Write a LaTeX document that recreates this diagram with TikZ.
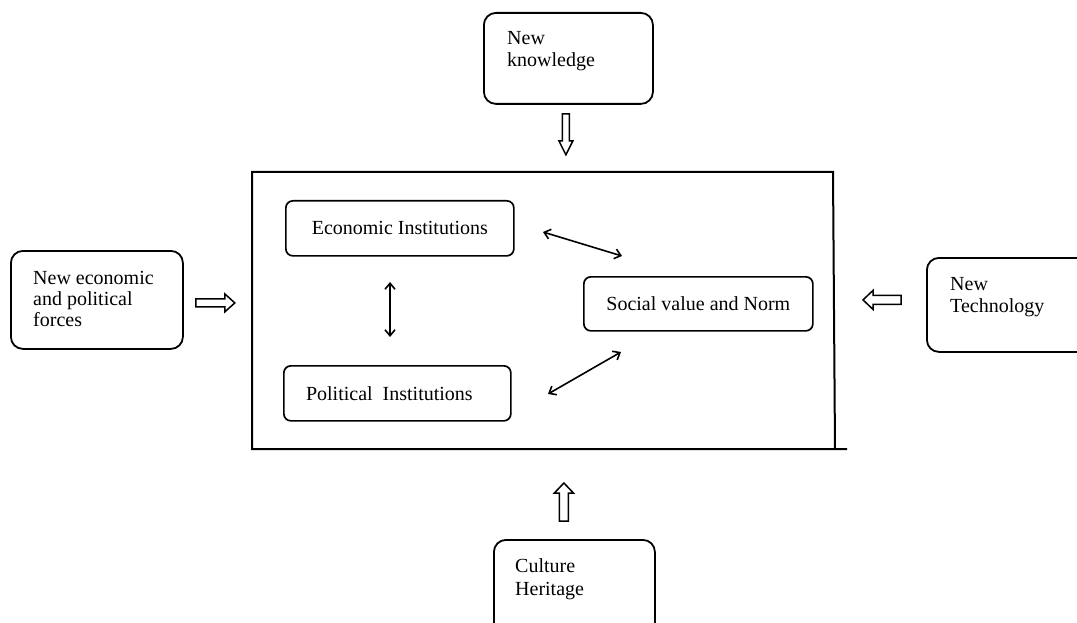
\documentclass[tikz,border=0pt]{standalone}
\usepackage{fontspec}
\setmainfont{Liberation Serif}
\usetikzlibrary{arrows.meta,calc}
\begin{document}
\begin{tikzpicture}[x=1pt,y=-1pt,
  outerbox/.style={draw, line width=1.8pt, rounded corners=12pt, inner sep=0pt},
  innerbox/.style={draw, line width=1.7pt, rounded corners=7pt, inner sep=0pt, font=\fontsize{20}{22}\selectfont},
  lbl/.style={anchor=north west, inner sep=0pt, align=left},
  blk/.style={draw, line width=1.5pt, line join=miter},
  dbl/.style={{Straight Barb[length=6pt,width=10pt,line width=1.6pt]}-{Straight Barb[length=6pt,width=10pt,line width=1.6pt]}, line width=1.6pt}
]
\clip (0,0) rectangle (1077,623);
\fill[white] (0,0) rectangle (1077,623);

% outer frame
\coordinate (fbr) at (847,449);
\coordinate (fbl) at (252,449);
\coordinate (ftl) at (252,172);
\coordinate (ftr) at (833,172);
\coordinate (frb) at (835,449);
\draw[line width=2pt] (fbr) -- (fbl) -- (ftl) -- (ftr) -- (frb);

% outer boxes
\node[outerbox, anchor=north west, minimum width=169pt, minimum height=91pt] (nk) at (483,12) {};
\node[lbl, font=\fontsize{20}{22}\selectfont] (nkt) at (507,31.5) {New\\knowledge};

\node[outerbox, anchor=north west, minimum width=172pt, minimum height=98pt] (ne) at (10,250) {};
\node[lbl, font=\fontsize{20}{21}\selectfont] (net) at (33,271.5) {New economic\\and political\\forces};

\node[outerbox, anchor=north west, minimum width=180pt, minimum height=94pt] (nt) at (926,257) {};
\node[lbl, font=\fontsize{20}{22}\selectfont] (ntt) at (950,277.5) {New\\Technology};

\node[outerbox, anchor=north west, minimum width=161pt, minimum height=110pt] (ch) at (493,539) {};
\node[lbl, font=\fontsize{20}{23}\selectfont] (cht) at (515,558) {Culture\\Heritage};

% inner boxes
\node[innerbox, anchor=north west, minimum width=228pt, minimum height=55pt] (econ) at (285,200) {Economic Institutions};
\node[innerbox, anchor=north west, minimum width=227pt, minimum height=55pt] (pol) at (283,365) {Political\ \ Institutions\hspace*{16pt}};
\node[innerbox, anchor=north west, minimum width=229pt, minimum height=54pt] (soc) at (583,276) {Social value and Norm};

% double-headed arrows
\coordinate (a1) at (543,232);
\coordinate (a2) at (622,256);
\coordinate (b1) at (390,282);
\coordinate (b2) at (390,337);
\coordinate (c1) at (548,394);
\coordinate (c2) at (621,352);
\draw[dbl] (a1) -- (a2);
\draw[dbl] (b1) -- (b2);
\draw[dbl] (c1) -- (c2);

% block arrows
\draw[blk, shift={($(nk.south)+(-2.5,9)$)}, rotate=-90]
  (0,-3.5) -- (27,-3.5) -- (27,-7) -- (41,0) -- (27,7) -- (27,3.5) -- (0,3.5) -- cycle;
\draw[blk, shift={($(ne.east)+(12,3)$)}]
  (0,-4) -- (29,-4) -- (29,-9) -- (39,0) -- (29,9) -- (29,4) -- (0,4) -- cycle;
\draw[blk, shift={($(nt.west)+(-25,-5)$)}, rotate=180]
  (0,-4.5) -- (28,-4.5) -- (28,-9.5) -- (38,0) -- (28,9.5) -- (28,4.5) -- (0,4.5) -- cycle;
\draw[blk, shift={($(ch.north)+(-10.5,-18)$)}, rotate=90]
  (0,-4.5) -- (28,-4.5) -- (28,-9.5) -- (38,0) -- (28,9.5) -- (28,4.5) -- (0,4.5) -- cycle;
\end{tikzpicture}
\end{document}
